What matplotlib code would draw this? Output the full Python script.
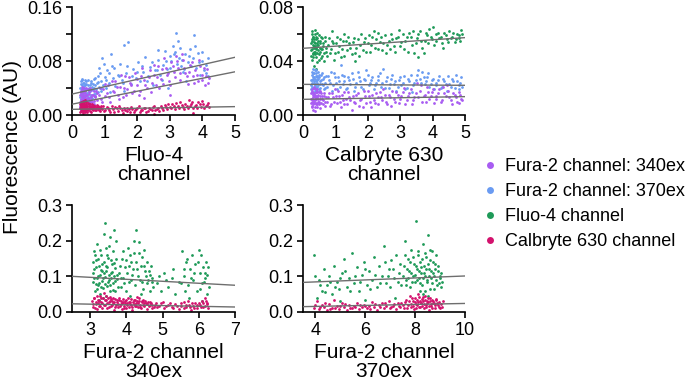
import numpy as np
import matplotlib
matplotlib.use("Agg")
import matplotlib.pyplot as plt
from matplotlib.lines import Line2D

plt.rcParams['font.family'] = ['Liberation Sans', 'DejaVu Sans']

c340 = '#A85CF2'
c370 = '#6A9BF2'
cfluo = '#1E9A58'
ccal = '#D3126D'
line_gray = '#6E6E6E'

legend_labels = ["Fura-2 channel: 340ex", "Fura-2 channel: 370ex",
                 "Fluo-4 channel", "Calbryte 630 channel"]

# ---- panel 1: x = Fluo-4 channel ----
p1_370 = [(0.26,0.012),(0.27,0.031),(0.28,0.046),(0.29,0.022),(0.30,0.038),(0.31,0.052),(0.32,0.017),(0.33,0.028),
          (0.34,0.041),(0.35,0.034),(0.36,0.048),(0.37,0.020),(0.38,0.026),(0.39,0.044),(0.40,0.036),(0.41,0.015),
          (0.42,0.029),(0.43,0.050),(0.44,0.039),(0.45,0.024),(0.47,0.033),(0.48,0.045),(0.50,0.027),(0.52,0.040),
          (0.53,0.019),(0.55,0.035),(0.57,0.048),(0.58,0.030),(0.60,0.042),(0.62,0.025),(0.64,0.037),(0.66,0.053),
          (0.68,0.031),(0.70,0.044),(0.72,0.028),(0.74,0.039),(0.77,0.047),(0.79,0.034),(0.81,0.058),(0.83,0.041),
          (0.85,0.062),(0.88,0.036),(0.90,0.050),(0.93,0.085),(0.96,0.045),(1.00,0.057),(1.04,0.040),(1.08,0.066),
          (1.12,0.048),(1.18,0.034),(1.22,0.072),(1.27,0.055),(1.33,0.043),(1.40,0.060),(1.46,0.075),(1.52,0.052),
          (1.58,0.104),(1.65,0.062),(1.71,0.108),(1.80,0.046),(1.88,0.068),(1.95,0.055),(2.02,0.078),(2.10,0.050),
          (2.18,0.064),(2.25,0.086),(2.33,0.058),(2.40,0.071),(2.48,0.044),(2.55,0.066),(2.63,0.082),(2.70,0.060),
          (2.78,0.074),(2.85,0.095),(2.92,0.068),(3.00,0.088),(3.05,0.080),(3.10,0.102),(3.15,0.094),(3.18,0.122),
          (3.24,0.110),(3.28,0.085),(3.33,0.072),(3.40,0.064),(3.48,0.090),(3.55,0.078),(3.62,0.098),(3.70,0.085),
          (3.74,0.118),(3.80,0.070),(3.86,0.092),(3.92,0.060),(3.98,0.080),(4.05,0.066),(4.12,0.074),(4.18,0.058),
          (2.95,0.040),(1.60,0.035),(3.50,0.050),(0.98,0.075),
          (0.25,0.040),(0.26,0.027),(0.27,0.050),(0.28,0.019),(0.29,0.036),(0.30,0.045),(0.31,0.030),(0.32,0.054),
          (0.33,0.039),(0.34,0.023),(0.35,0.047),(0.36,0.029),(0.37,0.043),(0.38,0.035),(0.39,0.052),(0.40,0.021),
          (0.42,0.038),(0.44,0.046),(0.46,0.031),(0.49,0.052),(0.51,0.036),(0.54,0.044),(0.56,0.026),(0.59,0.051),
          (0.63,0.046),(0.67,0.040),(0.71,0.055),(0.75,0.033),(0.80,0.049),(0.84,0.070),(0.90,0.040),(1.05,0.052),
          (1.15,0.062),(1.30,0.070),(1.45,0.058),(1.55,0.048),(1.70,0.072),(1.85,0.058),(2.00,0.064),(2.15,0.072),
          (2.30,0.050),(2.45,0.078),(2.60,0.066),(2.75,0.052),(2.88,0.080),(3.02,0.070),(3.12,0.090),(3.22,0.075),
          (3.30,0.100),(3.38,0.082),(3.45,0.068),(3.58,0.088),(3.66,0.072),(3.78,0.102),(3.90,0.078),(4.00,0.094),
          (4.10,0.062),(4.16,0.085),(1.20,0.090),(2.65,0.096)]
p1_340 = [(0.26,0.020),(0.27,0.008),(0.28,0.032),(0.29,0.015),(0.30,0.026),(0.31,0.038),(0.32,0.011),(0.33,0.022),
          (0.34,0.030),(0.35,0.017),(0.36,0.035),(0.37,0.024),(0.38,0.009),(0.39,0.028),(0.40,0.019),(0.41,0.033),
          (0.42,0.013),(0.43,0.025),(0.44,0.040),(0.45,0.021),(0.47,0.029),(0.49,0.016),(0.51,0.034),(0.53,0.023),
          (0.55,0.012),(0.57,0.027),(0.59,0.037),(0.61,0.020),(0.64,0.030),(0.67,0.017),(0.70,0.026),(0.73,0.035),
          (0.76,0.022),(0.82,0.030),(0.88,0.024),(0.95,0.038),(1.02,0.028),(1.10,0.044),(1.18,0.020),(1.25,0.036),
          (1.32,0.050),(1.40,0.030),(1.48,0.042),(1.55,0.026),(1.62,0.058),(1.70,0.038),(1.78,0.048),(1.85,0.032),
          (1.92,0.062),(2.00,0.044),(2.08,0.036),(2.15,0.070),(2.22,0.052),(2.30,0.040),(2.38,0.066),(2.45,0.048),
          (2.52,0.074),(2.60,0.056),(2.68,0.040),(2.75,0.068),(2.82,0.084),(2.90,0.060),(2.97,0.050),(3.05,0.078),
          (3.12,0.064),(3.18,0.088),(3.25,0.070),(3.32,0.052),(3.40,0.082),(3.47,0.062),(3.55,0.046),(3.62,0.074),
          (3.70,0.058),(3.78,0.066),(3.85,0.050),(3.92,0.072),(4.00,0.060),(4.08,0.045),(4.15,0.068),(4.20,0.055),
          (2.20,0.025),(3.00,0.030),(1.50,0.060),
          (0.25,0.014),(0.26,0.030),(0.27,0.024),(0.28,0.010),(0.29,0.035),(0.30,0.018),(0.31,0.028),(0.32,0.042),
          (0.33,0.016),(0.34,0.024),(0.35,0.032),(0.36,0.012),(0.37,0.040),(0.38,0.027),(0.39,0.018),(0.40,0.036),
          (0.42,0.022),(0.44,0.030),(0.46,0.014),(0.48,0.038),(0.50,0.025),(0.52,0.031),(0.54,0.019),(0.56,0.040),
          (0.58,0.022),(0.62,0.029),(0.66,0.036),(0.69,0.021),(0.72,0.028),(0.78,0.032),(0.85,0.040),(0.92,0.020),
          (1.00,0.046),(1.08,0.032),(1.15,0.026),(1.22,0.050),(1.30,0.034),(1.38,0.042),(1.45,0.024),(1.58,0.040),
          (1.66,0.030),(1.75,0.056),(1.82,0.044),(1.90,0.036),(1.98,0.054),(2.05,0.030),(2.12,0.058),(2.25,0.044),
          (2.35,0.056),(2.42,0.034),(2.50,0.060),(2.58,0.044),(2.65,0.072),(2.72,0.054),(2.80,0.046),(2.88,0.070),
          (2.95,0.062),(3.02,0.044),(3.10,0.072),(3.16,0.056),(3.22,0.080),(3.30,0.062),(3.36,0.090),(3.44,0.070),
          (3.52,0.058),(3.60,0.064),(3.68,0.078),(3.75,0.048),(3.82,0.060),(3.90,0.082),(3.98,0.052),(4.05,0.070),
          (4.12,0.058),(4.18,0.048)]
p1_cal = [(0.26,0.004),(0.27,0.014),(0.28,0.009),(0.29,0.019),(0.30,0.006),(0.31,0.012),(0.32,0.016),(0.33,0.003),
          (0.34,0.010),(0.35,0.021),(0.36,0.007),(0.37,0.013),(0.38,0.017),(0.39,0.005),(0.40,0.011),(0.41,0.015),
          (0.42,0.008),(0.43,0.019),(0.44,0.012),(0.45,0.004),(0.47,0.014),(0.49,0.009),(0.51,0.017),(0.53,0.011),
          (0.55,0.006),(0.57,0.013),(0.59,0.010),(0.61,0.016),(0.63,0.008),(0.65,0.012),(0.68,0.014),(0.71,0.007),
          (0.74,0.011),(0.77,0.015),(0.80,0.009),(0.83,0.012),(0.86,0.006),(0.89,0.010),(0.95,0.013),(1.02,0.008),
          (1.10,0.011),(1.18,0.004),(1.25,0.009),(1.33,0.012),(1.40,0.006),(1.48,0.010),(1.55,0.003),(1.63,0.008),
          (1.70,0.011),(1.78,0.005),(1.85,0.009),(1.93,0.007),(2.00,0.010),(2.08,0.004),(2.16,0.008),(2.24,0.011),
          (2.32,0.006),(2.40,0.009),(2.48,0.012),(2.56,0.007),(2.64,0.010),(2.72,0.014),(2.80,0.008),(2.88,0.012),
          (2.96,0.016),(3.04,0.010),(3.12,0.013),(3.20,0.018),(3.28,0.011),(3.36,0.015),(3.44,0.009),(3.52,0.013),
          (3.60,0.022),(3.66,0.017),(3.72,0.011),(3.80,0.015),(3.88,0.019),(3.95,0.012),(4.02,0.016),(4.10,0.013),
          (4.17,0.018),(3.70,0.003),(2.50,0.002),
          (0.25,0.010),(0.26,0.017),(0.27,0.006),(0.28,0.015),(0.29,0.011),(0.30,0.020),(0.31,0.008),(0.32,0.013),
          (0.33,0.018),(0.34,0.006),(0.35,0.014),(0.36,0.010),(0.37,0.019),(0.38,0.008),(0.39,0.015),(0.40,0.022),
          (0.41,0.006),(0.42,0.013),(0.43,0.009),(0.44,0.016),(0.46,0.011),(0.48,0.018),(0.50,0.007),(0.52,0.014),
          (0.54,0.010),(0.56,0.017),(0.58,0.005),(0.60,0.012),(0.62,0.009),(0.64,0.015),(0.67,0.010),(0.70,0.013),
          (0.73,0.008),(0.76,0.012),(0.79,0.014),(0.82,0.007),(0.85,0.011),(0.88,0.014),(0.92,0.009),(0.98,0.006),
          (1.06,0.012),(1.14,0.008),(1.22,0.013),(1.30,0.005),(1.38,0.010),(1.45,0.013),(1.52,0.008),(1.60,0.011),
          (1.68,0.006),(1.75,0.009),(1.82,0.012),(1.90,0.004),(1.97,0.009),(2.04,0.013),(2.12,0.007),(2.20,0.010),
          (2.28,0.005),(2.36,0.011),(2.44,0.008),(2.52,0.013),(2.60,0.009),(2.68,0.006),(2.76,0.011),(2.84,0.015),
          (2.92,0.009),(3.00,0.012),(3.08,0.017),(3.16,0.009),(3.24,0.014),(3.32,0.020),(3.40,0.012),(3.48,0.016),
          (3.56,0.010),(3.62,0.014),(3.68,0.020),(3.76,0.013),(3.84,0.011),(3.92,0.016),(3.98,0.021),(4.06,0.011),
          (4.14,0.015),(4.20,0.012)]
# fitted lines, y at left and right axis ends
p1_fits = [(0.031, 0.0855), (0.016, 0.064), (0.0084, 0.0124)]

# ---- panel 2: x = Calbryte 630 channel ----
p2_fluo = [(0.26,0.048),(0.27,0.056),(0.28,0.041),(0.29,0.062),(0.30,0.052),(0.31,0.045),(0.32,0.058),(0.33,0.050),
           (0.34,0.036),(0.35,0.054),(0.36,0.047),(0.37,0.060),(0.38,0.051),(0.39,0.043),(0.40,0.056),(0.41,0.049),
           (0.42,0.053),(0.43,0.039),(0.44,0.057),(0.45,0.048),(0.47,0.052),(0.49,0.045),(0.51,0.055),(0.53,0.050),
           (0.55,0.042),(0.57,0.058),(0.59,0.049),(0.61,0.053),(0.64,0.046),(0.67,0.055),(0.70,0.050),(0.75,0.044),
           (0.80,0.057),(0.86,0.049),(0.92,0.053),(0.98,0.046),(1.04,0.058),(1.10,0.051),(1.16,0.043),(1.22,0.055),
           (1.28,0.060),(1.35,0.048),(1.42,0.053),(1.50,0.045),(1.57,0.057),(1.64,0.050),(1.72,0.044),(1.80,0.060),
           (1.88,0.054),(1.95,0.047),(2.03,0.059),(2.10,0.052),(2.18,0.062),(2.25,0.056),(2.33,0.049),(2.40,0.058),
           (2.48,0.053),(2.56,0.046),(2.64,0.055),(2.72,0.060),(2.80,0.051),(2.88,0.057),(2.96,0.063),(3.04,0.054),
           (3.12,0.049),(3.20,0.058),(3.28,0.061),(3.36,0.052),(3.44,0.046),(3.52,0.057),(3.60,0.062),(3.68,0.050),
           (3.75,0.055),(3.82,0.059),(3.90,0.064),(3.97,0.056),(4.05,0.052),(4.12,0.060),(4.20,0.057),(4.28,0.053),
           (4.36,0.061),(4.44,0.056),(4.52,0.062),(4.60,0.058),(4.68,0.054),(4.75,0.060),(4.82,0.057),(4.88,0.063),
           (3.55,0.043),(1.60,0.040),(0.90,0.062),
           (0.25,0.053),(0.26,0.044),(0.27,0.060),(0.28,0.049),(0.29,0.055),(0.30,0.046),(0.31,0.058),(0.32,0.043),
           (0.33,0.056),(0.34,0.051),(0.35,0.047),(0.36,0.063),(0.37,0.053),(0.38,0.045),(0.39,0.058),(0.40,0.050),
           (0.41,0.034),(0.42,0.046),(0.43,0.061),(0.44,0.052),(0.46,0.055),(0.48,0.041),(0.50,0.059),(0.52,0.047),
           (0.54,0.053),(0.56,0.049),(0.58,0.044),(0.60,0.057),(0.63,0.051),(0.66,0.040),(0.69,0.058),(0.72,0.047),
           (0.78,0.052),(0.84,0.046),(0.90,0.055),(0.96,0.041),(1.02,0.053),(1.08,0.047),(1.14,0.056),(1.20,0.049),
           (1.26,0.044),(1.32,0.055),(1.40,0.058),(1.46,0.050),(1.54,0.054),(1.62,0.046),(1.70,0.056),(1.76,0.052),
           (1.84,0.048),(1.92,0.057),(2.00,0.053),(2.07,0.047),(2.14,0.058),(2.22,0.050),(2.30,0.061),(2.37,0.054),
           (2.45,0.048),(2.52,0.059),(2.60,0.052),(2.68,0.049),(2.76,0.056),(2.84,0.047),(2.92,0.058),(3.00,0.051),
           (3.08,0.060),(3.16,0.055),(3.24,0.047),(3.32,0.058),(3.40,0.062),(3.48,0.053),(3.56,0.060),(3.64,0.055),
           (3.72,0.046),(3.80,0.061),(3.86,0.053),(3.94,0.058),(4.02,0.065),(4.10,0.055),(4.17,0.061),(4.25,0.058),
           (4.32,0.050),(4.40,0.059),(4.48,0.054),(4.56,0.057),(4.64,0.061),(4.72,0.056),(4.80,0.059),(4.86,0.055),
           (4.90,0.060)]
p2_370 = [(0.26,0.022),(0.27,0.030),(0.28,0.017),(0.29,0.026),(0.30,0.034),(0.31,0.020),(0.32,0.028),(0.33,0.024),
          (0.34,0.015),(0.35,0.031),(0.36,0.023),(0.37,0.027),(0.38,0.019),(0.39,0.033),(0.40,0.025),(0.41,0.021),
          (0.42,0.029),(0.43,0.018),(0.44,0.026),(0.45,0.032),(0.47,0.022),(0.49,0.028),(0.51,0.020),(0.53,0.025),
          (0.55,0.030),(0.58,0.023),(0.61,0.027),(0.64,0.019),(0.67,0.024),(0.70,0.029),(0.75,0.021),(0.80,0.026),
          (0.86,0.032),(0.92,0.022),(0.98,0.028),(1.04,0.019),(1.10,0.025),(1.16,0.037),(1.22,0.023),(1.28,0.029),
          (1.35,0.020),(1.42,0.026),(1.50,0.031),(1.57,0.018),(1.64,0.024),(1.72,0.028),(1.80,0.021),(1.88,0.027),
          (1.95,0.033),(2.03,0.022),(2.10,0.026),(2.18,0.019),(2.25,0.024),(2.33,0.029),(2.40,0.021),(2.48,0.034),
          (2.56,0.025),(2.64,0.020),(2.72,0.027),(2.80,0.023),(2.88,0.018),(2.96,0.026),(3.04,0.022),(3.12,0.029),
          (3.20,0.020),(3.28,0.025),(3.36,0.017),(3.44,0.024),(3.52,0.030),(3.60,0.027),(3.68,0.032),(3.75,0.023),
          (3.82,0.028),(3.90,0.021),(3.97,0.026),(4.05,0.019),(4.12,0.024),(4.20,0.029),(4.28,0.021),(4.36,0.025),
          (4.44,0.018),(4.52,0.023),(4.60,0.027),(4.68,0.020),(4.75,0.025),(4.82,0.022),(4.88,0.028),
          (0.25,0.026),(0.26,0.019),(0.27,0.024),(0.28,0.032),(0.29,0.021),(0.30,0.027),(0.31,0.016),(0.32,0.031),
          (0.33,0.020),(0.34,0.028),(0.35,0.025),(0.36,0.018),(0.37,0.033),(0.38,0.022),(0.39,0.029),(0.40,0.017),
          (0.41,0.031),(0.42,0.024),(0.43,0.028),(0.44,0.021),(0.46,0.027),(0.48,0.019),(0.50,0.030),(0.52,0.023),
          (0.54,0.017),(0.56,0.026),(0.60,0.031),(0.63,0.022),(0.66,0.028),(0.69,0.020),(0.78,0.029),(0.84,0.024),
          (0.90,0.018),(0.96,0.031),(1.02,0.024),(1.08,0.028),(1.14,0.021),(1.20,0.030),(1.26,0.025),(1.32,0.019),
          (1.40,0.028),(1.46,0.023),(1.54,0.027),(1.62,0.021),(1.70,0.032),(1.76,0.025),(1.84,0.019),(1.92,0.026),
          (2.00,0.030),(2.07,0.024),(2.14,0.028),(2.22,0.022),(2.30,0.026),(2.37,0.031),(2.45,0.024),(2.52,0.020),
          (2.60,0.028),(2.68,0.023),(2.76,0.030),(2.84,0.025),(2.92,0.021),(3.00,0.028),(3.08,0.024),(3.16,0.019),
          (3.24,0.027),(3.32,0.030),(3.40,0.022),(3.48,0.026),(3.56,0.033),(3.64,0.024),(3.72,0.028),(3.80,0.025),
          (3.86,0.031),(3.94,0.023),(4.02,0.027),(4.10,0.022),(4.17,0.026),(4.25,0.020),(4.32,0.027),(4.40,0.023),
          (4.48,0.029),(4.56,0.021),(4.64,0.025),(4.72,0.030),(4.80,0.019),(4.86,0.024),(4.90,0.021)]
p2_340 = [(0.26,0.012),(0.27,0.006),(0.28,0.018),(0.29,0.010),(0.30,0.015),(0.31,0.004),(0.32,0.013),(0.33,0.020),
          (0.34,0.009),(0.35,0.016),(0.36,0.011),(0.37,0.003),(0.38,0.014),(0.39,0.019),(0.40,0.008),(0.41,0.012),
          (0.42,0.017),(0.43,0.006),(0.44,0.013),(0.45,0.010),(0.47,0.015),(0.49,0.008),(0.51,0.012),(0.53,0.018),
          (0.55,0.009),(0.58,0.014),(0.61,0.011),(0.64,0.016),(0.67,0.007),(0.70,0.013),(0.75,0.010),(0.80,0.016),
          (0.86,0.008),(0.92,0.013),(0.98,0.019),(1.04,0.009),(1.10,0.014),(1.16,0.006),(1.22,0.011),(1.28,0.017),
          (1.35,0.008),(1.42,0.013),(1.50,0.004),(1.57,0.010),(1.64,0.015),(1.72,0.007),(1.80,0.012),(1.88,0.018),
          (1.95,0.009),(2.03,0.014),(2.10,0.006),(2.18,0.011),(2.25,0.016),(2.33,0.008),(2.40,0.013),(2.48,0.019),
          (2.56,0.010),(2.64,0.015),(2.72,0.007),(2.80,0.012),(2.88,0.017),(2.96,0.009),(3.04,0.014),(3.12,0.020),
          (3.20,0.011),(3.28,0.016),(3.36,0.008),(3.44,0.013),(3.52,0.024),(3.60,0.018),(3.68,0.010),(3.75,0.015),
          (3.82,0.021),(3.90,0.012),(3.97,0.017),(4.05,0.009),(4.12,0.014),(4.20,0.019),(4.28,0.011),(4.36,0.016),
          (4.44,0.022),(4.52,0.013),(4.60,0.008),(4.68,0.015),(4.75,0.010),(4.82,0.017),(4.88,0.012),
          (0.25,0.009),(0.26,0.016),(0.27,0.012),(0.28,0.007),(0.29,0.019),(0.30,0.011),(0.31,0.016),(0.32,0.008),
          (0.33,0.014),(0.34,0.021),(0.35,0.010),(0.36,0.015),(0.37,0.012),(0.38,0.006),(0.39,0.013),(0.40,0.017),
          (0.41,0.009),(0.42,0.014),(0.43,0.019),(0.44,0.008),(0.46,0.012),(0.48,0.017),(0.50,0.010),(0.52,0.014),
          (0.54,0.005),(0.56,0.016),(0.60,0.012),(0.63,0.008),(0.66,0.014),(0.69,0.010),(0.78,0.013),(0.84,0.007),
          (0.90,0.016),(0.96,0.010),(1.02,0.014),(1.08,0.018),(1.14,0.010),(1.20,0.015),(1.26,0.008),(1.32,0.012),
          (1.40,0.017),(1.46,0.011),(1.54,0.014),(1.62,0.009),(1.70,0.016),(1.76,0.011),(1.84,0.006),(1.92,0.014),
          (2.00,0.018),(2.07,0.010),(2.14,0.015),(2.22,0.009),(2.30,0.013),(2.37,0.017),(2.45,0.011),(2.52,0.015),
          (2.60,0.008),(2.68,0.013),(2.76,0.018),(2.84,0.010),(2.92,0.015),(3.00,0.012),(3.08,0.017),(3.16,0.008),
          (3.24,0.014),(3.32,0.019),(3.40,0.011),(3.48,0.016),(3.56,0.013),(3.64,0.022),(3.72,0.014),(3.80,0.010),
          (3.86,0.017),(3.94,0.014),(4.02,0.019),(4.10,0.012),(4.17,0.016),(4.25,0.010),(4.32,0.021),(4.40,0.014),
          (4.48,0.018),(4.56,0.011),(4.64,0.016),(4.72,0.013),(4.80,0.009),(4.86,0.015),(4.90,0.011)]
p2_fits = [(0.0494, 0.0573), (0.0227, 0.0220), (0.0116, 0.0136)]

# ---- panel 3: x = Fura-2 channel 340ex ----
p3_fluo = [(3.08,0.085),(3.10,0.170),(3.12,0.120),(3.14,0.060),(3.16,0.145),(3.18,0.095),(3.20,0.190),(3.22,0.075),
           (3.24,0.130),(3.26,0.105),(3.28,0.050),(3.30,0.160),(3.32,0.088),(3.34,0.115),(3.36,0.068),(3.38,0.140),
           (3.40,0.250),(3.42,0.098),(3.44,0.180),(3.46,0.072),(3.48,0.125),(3.50,0.152),(3.52,0.090),(3.54,0.060),
           (3.56,0.210),(3.58,0.110),(3.60,0.135),(3.62,0.082),(3.64,0.170),(3.66,0.100),(3.68,0.058),(3.70,0.122),
           (3.72,0.200),(3.74,0.092),(3.35,0.040),(3.25,0.035),(3.45,0.045),(3.80,0.110),(3.84,0.070),(3.88,0.150),
           (3.92,0.095),(3.96,0.125),(4.00,0.060),(4.04,0.180),(4.08,0.085),(4.12,0.140),(4.16,0.105),(4.20,0.165),
           (4.24,0.075),(4.28,0.230),(4.30,0.120),(4.34,0.195),(4.38,0.090),(4.42,0.155),(4.46,0.065),(4.50,0.130),
           (4.54,0.100),(4.58,0.080),(4.62,0.115),(4.66,0.060),(4.70,0.095),(4.74,0.070),(4.10,0.045),(4.40,0.050),
           (4.85,0.080),(4.95,0.060),(5.05,0.110),(5.15,0.070),(5.25,0.095),(5.35,0.050),(5.45,0.085),(5.55,0.170),
           (5.60,0.100),(5.65,0.140),(5.70,0.075),(5.75,0.120),(5.80,0.160),(5.85,0.090),(5.90,0.135),(5.95,0.060),
           (6.00,0.175),(6.04,0.110),(6.08,0.080),(6.12,0.125),(6.16,0.095),(6.20,0.140),(6.24,0.105),(6.28,0.070),
           (5.72,0.040),(6.10,0.030),(6.22,0.050),
           (3.07,0.110),(3.09,0.140),(3.11,0.095),(3.13,0.160),(3.15,0.078),(3.17,0.125),(3.19,0.065),(3.21,0.150),
           (3.23,0.100),(3.25,0.082),(3.27,0.175),(3.29,0.118),(3.31,0.070),(3.33,0.135),(3.35,0.095),(3.37,0.220),
           (3.39,0.108),(3.41,0.078),(3.43,0.130),(3.45,0.115),(3.47,0.160),(3.49,0.085),(3.51,0.105),(3.53,0.185),
           (3.55,0.075),(3.57,0.145),(3.59,0.095),(3.61,0.112),(3.63,0.062),(3.65,0.138),(3.67,0.230),(3.69,0.088),
           (3.71,0.150),(3.73,0.105),(3.76,0.070),(3.82,0.130),(3.86,0.095),(3.90,0.170),(3.94,0.080),(3.98,0.145),
           (4.02,0.110),(4.06,0.130),(4.10,0.160),(4.14,0.090),(4.18,0.120),(4.22,0.200),(4.26,0.140),(4.32,0.100),
           (4.36,0.165),(4.40,0.130),(4.44,0.085),(4.48,0.175),(4.52,0.115),(4.56,0.140),(4.60,0.090),(4.64,0.105),
           (4.68,0.130),(4.72,0.085),(4.90,0.100),(5.10,0.090),(5.30,0.120),(5.50,0.080),(5.58,0.120),(5.68,0.150),
           (5.78,0.095),(5.88,0.110),(5.98,0.140),(6.06,0.160),(6.14,0.085),(6.18,0.110),(6.26,0.125),(5.62,0.060),
           (6.02,0.065)]
p3_cal = [(3.06,0.030),(3.09,0.015),(3.12,0.040),(3.15,0.022),(3.18,0.008),(3.21,0.035),(3.24,0.018),(3.27,0.045),
          (3.30,0.027),(3.33,0.012),(3.36,0.038),(3.39,0.052),(3.42,0.020),(3.45,0.033),(3.48,0.010),(3.51,0.028),
          (3.54,0.042),(3.57,0.016),(3.60,0.031),(3.63,0.024),(3.66,0.006),(3.69,0.036),(3.72,0.019),(3.75,0.029),
          (3.78,0.013),(3.81,0.034),(3.84,0.022),(3.87,0.009),(3.90,0.027),(3.93,0.017),(3.96,0.032),(3.99,0.011),
          (4.02,0.025),(4.05,0.038),(4.08,0.015),(4.11,0.028),(4.14,0.020),(4.17,0.007),(4.20,0.033),(4.23,0.018),
          (4.26,0.026),(4.29,0.041),(4.32,0.014),(4.35,0.030),(4.38,0.021),(4.41,0.010),(4.44,0.027),(4.47,0.035),
          (4.50,0.016),(4.53,0.024),(4.56,0.008),(4.60,0.029),(4.64,0.019),(4.68,0.025),(4.72,0.012),(4.78,0.021),
          (4.85,0.015),(4.95,0.024),(5.05,0.010),(5.15,0.020),(5.25,0.014),(5.35,0.022),(5.45,0.009),(5.52,0.018),
          (5.60,0.028),(5.66,0.013),(5.72,0.021),(5.78,0.006),(5.84,0.017),(5.90,0.025),(5.96,0.012),(6.02,0.020),
          (6.08,0.030),(6.13,0.015),(6.18,0.040),(6.22,0.022),(6.26,0.011),
          (3.07,0.022),(3.10,0.038),(3.13,0.012),(3.16,0.028),(3.19,0.044),(3.22,0.024),(3.25,0.032),(3.28,0.016),
          (3.31,0.040),(3.34,0.025),(3.37,0.019),(3.40,0.034),(3.43,0.046),(3.46,0.024),(3.49,0.038),(3.52,0.015),
          (3.55,0.030),(3.58,0.036),(3.61,0.020),(3.64,0.040),(3.67,0.027),(3.70,0.014),(3.73,0.033),(3.76,0.022),
          (3.79,0.039),(3.82,0.017),(3.85,0.030),(3.88,0.024),(3.91,0.036),(3.94,0.012),(3.97,0.026),(4.00,0.034),
          (4.03,0.019),(4.06,0.029),(4.09,0.023),(4.12,0.036),(4.15,0.013),(4.18,0.027),(4.21,0.022),(4.24,0.035),
          (4.27,0.016),(4.30,0.030),(4.33,0.024),(4.36,0.038),(4.39,0.015),(4.42,0.031),(4.45,0.019),(4.48,0.026),
          (4.52,0.031),(4.56,0.022),(4.62,0.016),(4.66,0.028),(4.70,0.020),(4.75,0.014),(4.82,0.026),(4.90,0.018),
          (5.00,0.028),(5.10,0.016),(5.20,0.025),(5.30,0.012),(5.40,0.018),(5.50,0.026),(5.58,0.012),(5.64,0.020),
          (5.70,0.030),(5.76,0.014),(5.82,0.024),(5.88,0.010),(5.94,0.019),(6.00,0.026),(6.06,0.014),(6.11,0.024),
          (6.16,0.018),(6.20,0.032),(6.24,0.026)]
p3_fits = [(0.100, 0.075), (0.023, 0.014)]

# ---- panel 4: x = Fura-2 channel 370ex ----
p4_fluo = [(3.95,0.160),(4.05,0.040),(4.15,0.090),(4.25,0.060),(4.35,0.120),(4.45,0.075),(4.55,0.100),(4.65,0.050),
           (4.75,0.130),(4.85,0.085),(4.95,0.065),(5.05,0.110),(5.15,0.150),(5.25,0.070),(5.35,0.095),(5.45,0.165),
           (5.55,0.080),(5.65,0.125),(5.75,0.060),(5.85,0.105),(5.95,0.140),(6.05,0.075),(6.15,0.115),(6.25,0.090),
           (6.35,0.155),(6.45,0.070),(6.55,0.130),(6.65,0.100),(6.75,0.185),(6.85,0.080),(6.95,0.120),(7.05,0.145),
           (7.15,0.095),(7.25,0.160),(7.35,0.110),(7.45,0.075),(7.55,0.130),(7.60,0.200),(7.65,0.090),(7.70,0.150),
           (7.75,0.115),(7.80,0.070),(7.85,0.175),(7.90,0.100),(7.95,0.135),(8.00,0.085),(8.05,0.255),(8.08,0.120),
           (8.12,0.160),(8.16,0.095),(8.20,0.140),(8.24,0.110),(8.28,0.075),(8.32,0.190),(8.36,0.130),(8.40,0.100),
           (8.44,0.155),(8.48,0.085),(8.52,0.215),(8.56,0.120),(8.60,0.145),(8.64,0.095),(8.68,0.170),(8.72,0.110),
           (8.76,0.065),(8.80,0.135),(8.85,0.090),(8.90,0.115),(8.95,0.080),(9.00,0.100),(9.05,0.070),(8.30,0.050),
           (8.50,0.045),(7.20,0.040),(6.00,0.035),(5.00,0.030),
           (4.00,0.100),(4.20,0.075),(4.40,0.055),(4.60,0.085),(4.80,0.070),(5.00,0.095),(5.20,0.115),(5.40,0.060),
           (5.60,0.100),(5.80,0.085),(6.00,0.120),(6.20,0.065),(6.40,0.105),(6.60,0.080),(6.80,0.140),(6.90,0.100),
           (7.00,0.070),(7.10,0.120),(7.30,0.085),(7.40,0.135),(7.50,0.100),(7.58,0.160),(7.62,0.075),(7.68,0.120),
           (7.72,0.095),(7.78,0.140),(7.82,0.110),(7.88,0.085),(7.92,0.155),(7.98,0.105),(8.02,0.130),(8.06,0.090),
           (8.10,0.170),(8.14,0.115),(8.18,0.080),(8.22,0.125),(8.26,0.150),(8.30,0.095),(8.34,0.110),(8.38,0.165),
           (8.42,0.120),(8.46,0.090),(8.50,0.135),(8.54,0.100),(8.58,0.175),(8.62,0.115),(8.66,0.080),(8.70,0.140),
           (8.74,0.100),(8.78,0.120),(8.82,0.160),(8.86,0.075),(8.92,0.130),(8.98,0.095),(9.04,0.110),(9.08,0.085),
           (8.40,0.060),(8.60,0.065),(8.20,0.060)]
p4_cal = [(3.95,0.012),(4.05,0.030),(4.15,0.008),(4.25,0.020),(4.35,0.015),(4.45,0.005),(4.55,0.022),(4.65,0.012),
          (4.75,0.035),(4.85,0.018),(4.95,0.009),(5.05,0.025),(5.15,0.014),(5.25,0.006),(5.35,0.020),(5.45,0.011),
          (5.55,0.017),(5.65,0.024),(5.75,0.008),(5.85,0.015),(5.95,0.021),(6.05,0.010),(6.15,0.018),(6.25,0.027),
          (6.35,0.013),(6.45,0.006),(6.55,0.019),(6.65,0.024),(6.75,0.011),(6.85,0.016),(6.95,0.030),(7.05,0.014),
          (7.15,0.022),(7.25,0.009),(7.35,0.018),(7.45,0.026),(7.55,0.012),(7.65,0.035),(7.72,0.020),(7.80,0.045),
          (7.85,0.015),(7.90,0.030),(7.95,0.008),(8.00,0.038),(8.05,0.022),(8.10,0.050),(8.15,0.013),(8.20,0.032),
          (8.25,0.025),(8.30,0.042),(8.35,0.010),(8.40,0.035),(8.45,0.020),(8.50,0.028),(8.55,0.006),(8.60,0.040),
          (8.65,0.017),(8.70,0.030),(8.75,0.024),(8.80,0.012),(8.85,0.033),(8.90,0.019),(8.95,0.027),(9.00,0.010),
          (9.08,0.015),
          (4.00,0.020),(4.20,0.014),(4.40,0.025),(4.60,0.008),(4.80,0.012),(5.00,0.018),(5.20,0.022),(5.40,0.010),
          (5.60,0.014),(5.80,0.020),(6.00,0.016),(6.20,0.008),(6.40,0.022),(6.60,0.015),(6.80,0.024),(7.00,0.010),
          (7.10,0.018),(7.30,0.026),(7.40,0.014),(7.50,0.020),(7.60,0.028),(7.68,0.012),(7.75,0.030),(7.82,0.022),
          (7.88,0.040),(7.92,0.016),(7.98,0.027),(8.02,0.012),(8.06,0.034),(8.08,0.020),(8.12,0.028),(8.16,0.042),
          (8.18,0.015),(8.22,0.024),(8.26,0.036),(8.28,0.018),(8.32,0.030),(8.36,0.022),(8.38,0.046),(8.42,0.014),
          (8.46,0.032),(8.48,0.024),(8.52,0.038),(8.54,0.016),(8.58,0.030),(8.62,0.022),(8.66,0.034),(8.68,0.012),
          (8.72,0.026),(8.78,0.020),(8.82,0.036),(8.88,0.024),(8.94,0.015),(9.02,0.022),(9.10,0.030)]
p4_fits = [(0.083, 0.101), (0.015, 0.024)]


def dots(ax, pts, color):
    pts = np.array(pts)
    ax.scatter(pts[:, 0], pts[:, 1], s=4, color=color, linewidths=0, zorder=2)


def fits(ax, xlim, ends):
    for y0, y1 in ends:
        ax.plot(xlim, [y0, y1], color=line_gray, lw=1.0, zorder=3)


def style(ax, xlim, ylim, xticks, yticks, ylabels, xlabel):
    ax.set_xlim(xlim)
    ax.set_ylim(ylim)
    ax.set_xticks(xticks)
    ax.set_yticks(yticks)
    ax.set_yticklabels(ylabels)
    for s in ['top', 'right']:
        ax.spines[s].set_visible(False)
    for s in ['left', 'bottom']:
        ax.spines[s].set_linewidth(1.2)
    ax.tick_params(direction='out', length=4, width=1.2, labelsize=13, pad=3)
    ax.set_xlabel(xlabel, fontsize=15, linespacing=1.0, labelpad=3)


fig = plt.figure(figsize=(6.92, 3.88), dpi=100)
W, H = 692, 388


def add_axes(l, t, r, b):
    return fig.add_axes([l / W, 1 - b / H, (r - l) / W, (b - t) / H])


ax1 = add_axes(72, 7, 235, 115)
dots(ax1, p1_370, c370)
dots(ax1, p1_340, c340)
dots(ax1, p1_cal, ccal)
fits(ax1, [0, 5], p1_fits)
style(ax1, (0, 5), (0, 0.16), range(6), [0, 0.04, 0.08, 0.12, 0.16],
      ['0.00', '', '0.08', '', '0.16'], "Fluo-4\nchannel")

ax2 = add_axes(303, 7, 465, 115)
dots(ax2, p2_fluo, cfluo)
dots(ax2, p2_370, c370)
dots(ax2, p2_340, c340)
fits(ax2, [0, 5], p2_fits)
style(ax2, (0, 5), (0, 0.08), range(6), [0, 0.02, 0.04, 0.06, 0.08],
      ['0.00', '', '0.04', '', '0.08'], "Calbryte 630\nchannel")

ax3 = add_axes(72, 205, 235, 312)
dots(ax3, p3_fluo, cfluo)
dots(ax3, p3_cal, ccal)
fits(ax3, [2.5, 7], p3_fits)
style(ax3, (2.5, 7), (0, 0.3), range(3, 8), [0, 0.1, 0.2, 0.3],
      ['0.0', '0.1', '0.2', '0.3'], "Fura-2 channel\n340ex")

ax4 = add_axes(303, 205, 465, 312)
dots(ax4, p4_fluo, cfluo)
dots(ax4, p4_cal, ccal)
fits(ax4, [3.5, 10], p4_fits)
style(ax4, (3.5, 10), (0, 0.3), [4, 6, 8, 10], [0, 0.1, 0.2, 0.3],
      ['0.0', '0.1', '0.2', '0.3'], "Fura-2 channel\n370ex")

fig.text(13 / W, 1 - 147 / H, "Fluorescence (AU)", rotation=90, fontsize=15,
         ha='center', va='center')

handles = [Line2D([], [], ls='none', marker='o', markersize=5, markeredgewidth=0, color=c)
           for c in [c340, c370, cfluo, ccal]]
fig.legend(handles, legend_labels, loc='upper left', bbox_to_anchor=(483 / W, 1 - 158 / H),
           frameon=False, fontsize=13, handlelength=0.8, handletextpad=0.4,
           labelspacing=0.45, borderpad=0, borderaxespad=0)

fig.savefig("out.png", dpi=100)
